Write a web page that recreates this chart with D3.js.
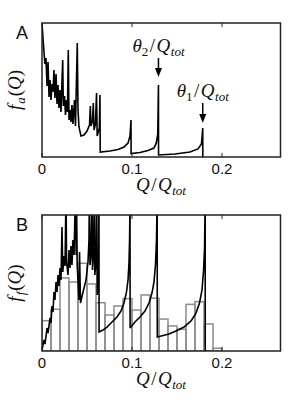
<!DOCTYPE html>
<html><head><meta charset="utf-8">
<script src="https://cdn.jsdelivr.net/npm/d3@7"></script>
<style>
html,body{margin:0;padding:0;background:#fff;}
svg{display:block;}
</style></head>
<body>
<svg id="c" width="300" height="400"></svg>
<script>
// ---------- data ----------
const xTicks = [0, 0.1, 0.2];
const xTickLabels = ["0", "0.1", "0.2"];
const panelLabels = ["A", "B"];

// Panel A: f_a(Q) curve (x = Q/Qtot, y = relative density, 1 = top of frame)
const curveA = [
[0,1.0],[0.0011,0.888],[0.0022,0.784],[0.0033,0.694],[0.0044,0.739],[0.0056,0.53],[0.0067,0.709],
[0.0078,0.448],[0.0089,0.575],[0.0100,0.425],[0.0111,0.545],[0.0122,0.485],[0.0133,0.649],[0.0144,0.44],
[0.0156,0.619],[0.0167,0.396],[0.0178,0.537],[0.0189,0.366],[0.0200,0.5],[0.0211,0.336],[0.0230,0.724],
[0.0237,0.381],[0.025,0.455],[0.0261,0.313],[0.0272,0.425],[0.0283,0.336],[0.0292,0.799],[0.030,0.276],
[0.0311,0.351],[0.0322,0.261],[0.0333,0.388],[0.0344,0.246],[0.0361,0.425],[0.0372,0.231],[0.0392,0.851],
[0.040,0.351],[0.0411,0.224],[0.0433,0.157],[0.0467,0.164],[0.050,0.194],[0.0528,0.239],[0.0537,0.381],
[0.0544,0.231],[0.0561,0.269],[0.057,0.403],[0.0578,0.201],[0.0594,0.246],[0.0606,0.478],[0.0613,0.157],
[0.0637,0.216],[0.0644,0.463],[0.0647,0.037],[0.0756,0.045],[0.0844,0.056],[0.0911,0.075],[0.0956,0.104],
[0.0978,0.157],[0.0989,0.276],[0.099,0.026],[0.1089,0.034],[0.1178,0.049],[0.1244,0.067],[0.1270,0.105],
[0.1286,0.170],[0.1294,0.537],[0.1295,0.015],[0.1478,0.022],[0.1644,0.037],[0.1733,0.06],[0.1772,0.097],
[0.1786,0.216],[0.1787,0]
];

// Panel A annotations
const annotLabels = ["θ2", "θ1"];
const annotX = [0.1294, 0.1786];
const annotArrowTop = [0.739, 0.403];
const annotArrowTip = [0.597, 0.254];

// Panel B: f_f(Q) curve (values above 1 run off the top of the frame)
const curveB = [
[0,0.007],[0.0022,0.081],[0.0033,0.051],[0.0056,0.169],[0.0067,0.132],[0.0089,0.243],[0.0100,0.206],
[0.0111,0.331],[0.0122,0.287],[0.0133,0.434],[0.0144,0.375],[0.0156,0.507],[0.0167,0.434],[0.0178,0.559],
[0.0189,0.478],[0.0200,0.610],[0.0211,0.522],[0.0222,0.912],[0.0231,0.581],[0.0244,0.699],[0.0256,0.625],
[0.0267,1.18],[0.0273,0.654],[0.0289,0.559],[0.0300,0.743],[0.0311,0.610],[0.0322,0.772],[0.0333,0.632],
[0.0344,0.816],[0.0356,0.706],[0.0372,1.18],[0.0380,0.706],[0.0384,1.1],[0.0391,0.632],[0.0411,0.375],
[0.0417,0.728],[0.0428,0.353],[0.0456,0.434],[0.0489,0.522],[0.0511,0.654],[0.0522,0.816],[0.0527,1.18],
[0.0533,0.632],[0.0544,0.706],[0.0556,1.1],[0.0561,0.596],[0.0572,0.706],[0.0581,1.18],[0.0587,0.559],
[0.0600,0.654],[0.0608,1.18],[0.0613,0.412],[0.0627,0.485],[0.0633,1.18],[0.0634,0.140],
[0.0678,0.154],[0.0722,0.176],[0.0778,0.213],[0.0833,0.25],[0.0878,0.294],[0.0911,0.353],[0.0939,0.434],
[0.0956,0.522],[0.0967,0.654],[0.0973,0.816],[0.0978,1.11],[0.0979,0.169],
[0.1033,0.213],[0.1089,0.25],[0.1144,0.294],[0.1189,0.353],[0.1222,0.426],[0.1244,0.507],[0.1261,0.632],
[0.1272,0.816],[0.1280,1.11],[0.1281,0.103],
[0.1411,0.125],[0.1489,0.147],[0.1578,0.176],[0.1656,0.221],[0.1711,0.279],[0.1750,0.353],[0.1778,0.449],
[0.1794,0.581],[0.1806,0.757],[0.1813,1.11],[0.1814,0]
];

// Panel B histogram (bins of width 0.01 starting at 0)
const histBinStart = [0,0.01,0.02,0.03,0.04,0.05,0.06,0.07,0.08,0.09,0.10,0.11,0.12,0.13,0.14,0.15,0.16,0.17,0.18,0.19];
const histValues = [0.223,0.307,0.537,0.507,0.645,0.493,0.355,0.265,0.331,0.385,0.301,0.412,0.388,0.235,0.184,0.160,0.343,0.363,0.199,0.020];
const histBinWidth = 0.01;

// ---------- drawing ----------
const svg = d3.select("#c");
const W = {left:42, right:280.5};
const x = d3.scaleLinear().domain([0, 0.265]).range([W.left, W.right]);
const panels = [
  {top:23, bottom:157, id:"A", ylab:"a"},
  {top:215, bottom:351, id:"B", ylab:"f"}
];
const serif = "'Liberation Serif', 'DejaVu Serif', serif";
const sans = "'Liberation Sans', Arial, sans-serif";
const mathSize = "19px", subSize = "13px";
const defs = svg.append("defs");

function mathQQtot(sel){
  sel.append("tspan").attr("font-style","italic").text("Q");
  sel.append("tspan").attr("dx",1.5).text("/");
  sel.append("tspan").attr("dx",1.5).attr("font-style","italic").text("Q");
  sel.append("tspan").attr("font-style","italic").attr("font-size",subSize).attr("dy",4).attr("dx",0.5).text("tot");
}

panels.forEach((p, i) => {
  const y = d3.scaleLinear().domain([0, 1]).range([p.bottom, p.top]);
  const g = svg.append("g");
  defs.append("clipPath").attr("id","clip"+i).append("rect")
    .attr("x", W.left).attr("y", p.top).attr("width", W.right-W.left).attr("height", p.bottom-p.top);

  const plot = g.append("g").attr("clip-path", `url(#clip${i})`);
  if (i === 1) {
    plot.selectAll("rect.bar").data(histValues).join("rect").attr("class","bar")
      .attr("x", (d,k) => x(histBinStart[k]))
      .attr("width", (d,k) => x(histBinStart[k]+histBinWidth) - x(histBinStart[k]))
      .attr("y", d => y(d))
      .attr("height", d => y(0) - y(d))
      .attr("fill","none").attr("stroke","#8c8c8c").attr("stroke-width",1.5);
  }
  const line = d3.line().x(d => x(d[0])).y(d => y(d[1]));
  plot.append("path").datum(i === 0 ? curveA : curveB)
    .attr("d", line).attr("fill","none").attr("stroke","#000")
    .attr("stroke-width",1.6).attr("stroke-linejoin","miter").attr("stroke-miterlimit",2);

  // frame
  g.append("rect").attr("x", W.left).attr("y", p.top).attr("width", W.right-W.left).attr("height", p.bottom-p.top)
    .attr("fill","none").attr("stroke","#222").attr("stroke-width",1.5);
  // ticks
  g.selectAll("line.tb").data(xTicks).join("line").attr("class","tb")
    .attr("x1", d=>x(d)).attr("x2", d=>x(d)).attr("y1", p.bottom).attr("y2", p.bottom-4)
    .attr("stroke","#222").attr("stroke-width",1);
  g.selectAll("line.tt").data(xTicks).join("line").attr("class","tt")
    .attr("x1", d=>x(d)).attr("x2", d=>x(d)).attr("y1", p.top).attr("y2", p.top+4)
    .attr("stroke","#222").attr("stroke-width",1);
  // tick labels
  g.selectAll("text.tl").data(xTicks).join("text").attr("class","tl")
    .attr("x", d=>x(d)).attr("y", p.bottom + 17).attr("text-anchor","middle")
    .attr("font-family", sans).attr("font-size","15px").attr("fill","#111")
    .text((d,k)=>xTickLabels[k]);
  // x label
  const xl = g.append("text").attr("x", 161).attr("y", p.bottom + 34).attr("text-anchor","middle")
    .attr("font-family", serif).attr("font-size",mathSize).attr("fill","#111");
  mathQQtot(xl);
  // y label
  const yl = g.append("text").attr("transform", `translate(21,${(p.top+p.bottom)/2}) rotate(-90)`)
    .attr("text-anchor","middle").attr("font-family", serif).attr("font-size",mathSize).attr("fill","#111");
  yl.append("tspan").attr("font-style","italic").text("f");
  yl.append("tspan").attr("font-style","italic").attr("font-size",subSize).attr("dy",4).attr("dx",1).text(p.ylab);
  yl.append("tspan").attr("dy",-4).attr("dx",1).text("(");
  yl.append("tspan").attr("font-style","italic").text("Q");
  yl.append("tspan").text(")");
  // panel letter
  g.append("text").attr("x", 16).attr("y", p.top + 16).attr("font-family", sans).attr("font-size","18px")
    .attr("fill","#111").text(panelLabels[i]);

  if (i === 0) {
    // annotations with arrows
    annotLabels.forEach((lab, k) => {
      const ax = x(annotX[k]);
      const y0 = y(annotArrowTop[k]), y1 = y(annotArrowTip[k]);
      g.append("line").attr("x1", ax).attr("x2", ax).attr("y1", y0).attr("y2", y1 - 6)
        .attr("stroke","#000").attr("stroke-width",1.5);
      g.append("path").attr("d", `M${ax-3.5},${y1-9} L${ax+3.5},${y1-9} L${ax},${y1} Z`).attr("fill","#000");
      const t = g.append("text").attr("x", ax).attr("y", y0 - 6).attr("text-anchor","middle")
        .attr("font-family", serif).attr("font-size",mathSize).attr("fill","#111");
      t.append("tspan").attr("font-style","italic").text(lab[0]);
      t.append("tspan").attr("font-size",subSize).attr("dy",4).text(lab[1]);
      t.append("tspan").attr("dy",-4).attr("dx",1.5).text("/");
      t.append("tspan").attr("dx",1.5).attr("font-style","italic").text("Q");
      t.append("tspan").attr("font-style","italic").attr("font-size",subSize).attr("dy",4).attr("dx",0.5).text("tot");
    });
  }
});
</script>
</body></html>
